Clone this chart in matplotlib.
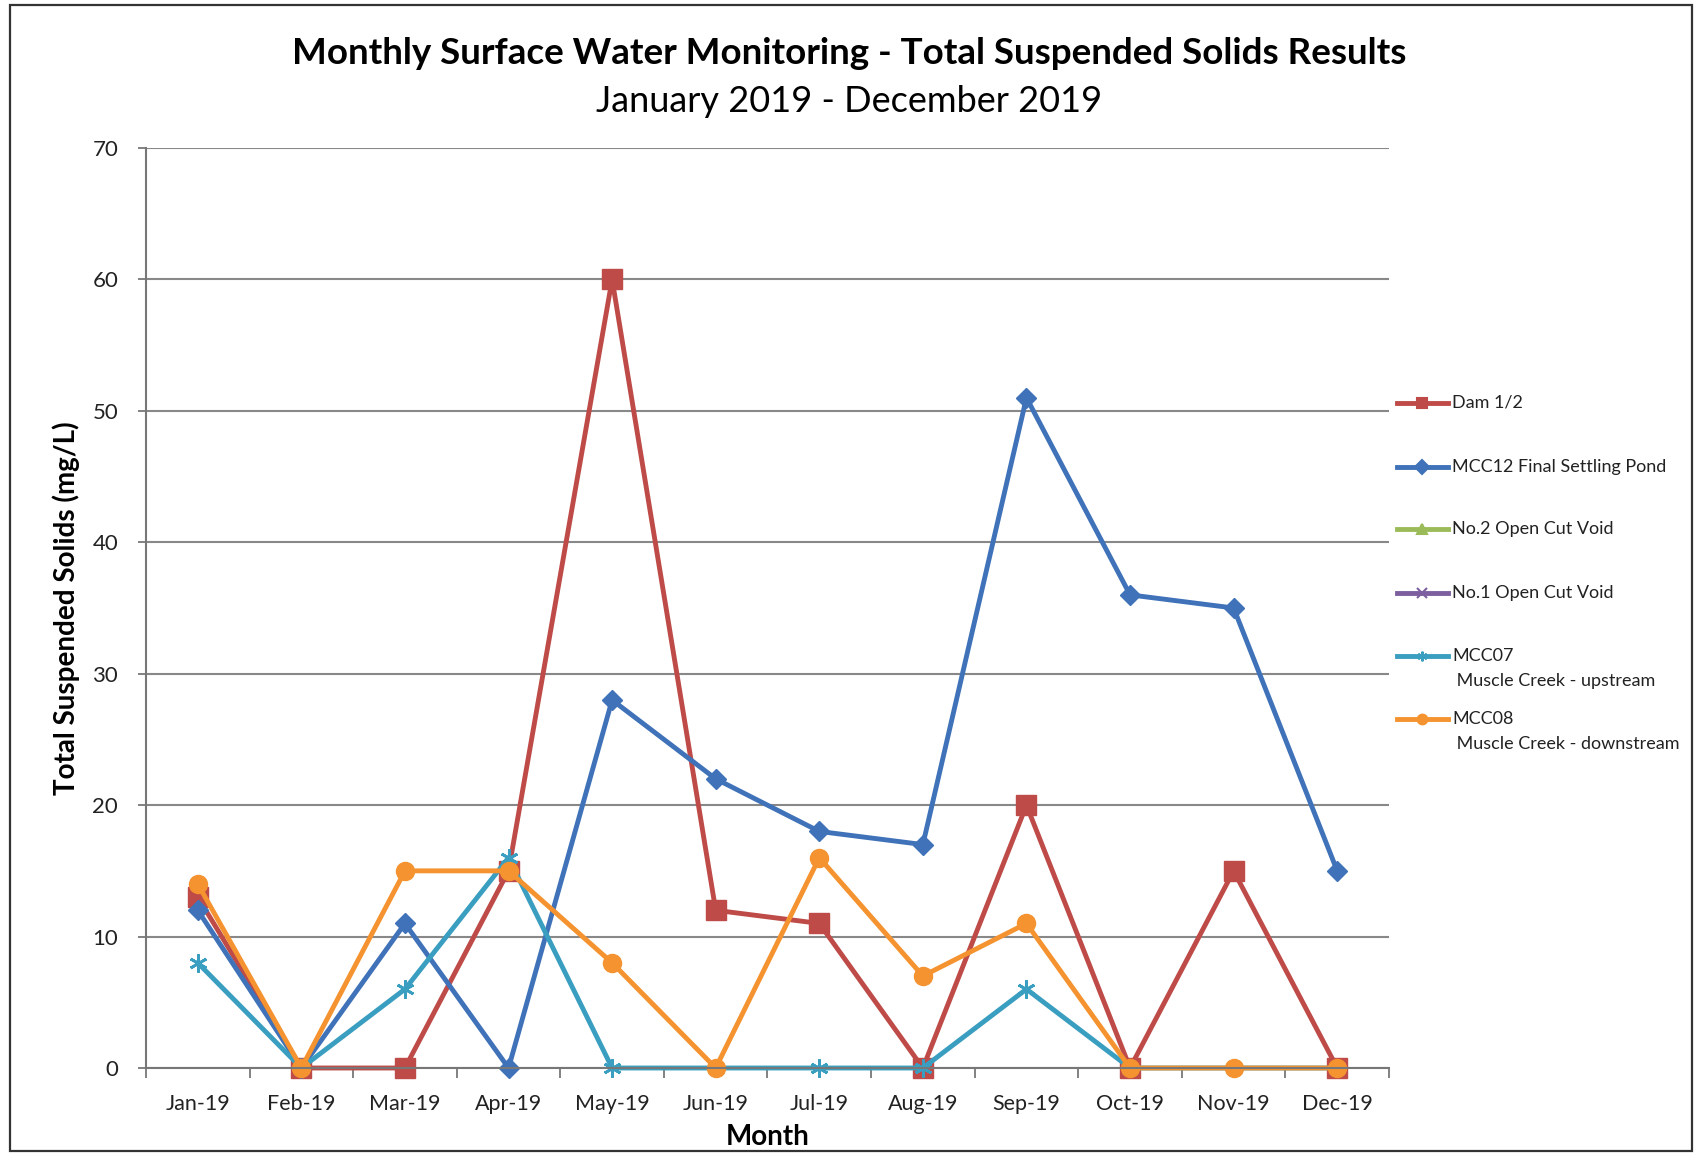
import numpy as np
import matplotlib
matplotlib.use("Agg")
from matplotlib import pyplot as plt
from matplotlib.lines import Line2D
from matplotlib.patches import Rectangle

plt.rcParams['font.family'] = ['Lato', 'DejaVu Sans']

months = ['Jan-19', 'Feb-19', 'Mar-19', 'Apr-19', 'May-19', 'Jun-19',
          'Jul-19', 'Aug-19', 'Sep-19', 'Oct-19', 'Nov-19', 'Dec-19']

dam_12 = [13, 0, 0, 15, 60, 12, 11, 0, 20, 0, 15, 0]
mcc12 = [12, 0, 11, 0, 28, 22, 18, 17, 51, 36, 35, 15]
no2_void = [np.nan] * 12
no1_void = [np.nan] * 12
mcc07 = [8, 0, 6, 16, 0, 0, 0, 0, 6, 0, 0, 0]
mcc08 = [14, 0, 15, 15, 8, 0, 16, 7, 11, 0, 0, 0]

series_names = ['Dam 1/2', 'MCC12 Final Settling Pond', 'No.2 Open Cut Void',
                'No.1 Open Cut Void', 'MCC07\n Muscle Creek - upstream',
                'MCC08\n Muscle Creek - downstream']
series_vals = [dam_12, mcc12, no2_void, no1_void, mcc07, mcc08]
colors = ['#BE4B48', '#3F72B8', '#9BBB59', '#7D5FA0', '#3A9EC0', '#F4932F']
markers = ['s', 'D', '^', 'x', (6, 2, 0), 'o']
msizes = [14, 10, 10, 10, 13, 13]

W, H = 1698, 1155
fig = plt.figure(figsize=(W / 100, H / 100), dpi=100)
ax = fig.add_axes([146 / W, 1 - 1068 / H, (1389 - 146) / W, (1068 - 148) / H])

x = np.arange(len(months))
for vals, c, m, ms in zip(series_vals, colors, markers, msizes):
    ax.plot(x, vals, color=c, lw=3.5, marker=m, markersize=ms,
            markeredgewidth=2 if m == (6, 2, 0) else 1, markeredgecolor=c,
            markerfacecolor=c, clip_on=False)

ax.set_xlim(-0.5, 11.5)
ax.set_ylim(0, 70)
ax.set_yticks(range(0, 71, 10))
ax.set_xticks(x)
ax.set_xticklabels(months, fontsize=15.5, color='#222222')
ax.set_xticks(np.arange(-0.5, 12, 1), minor=True)
ax.tick_params(axis='x', which='major', length=0, pad=19)
ax.tick_params(axis='x', which='minor', length=7, width=1.3, color='#777777')
ax.tick_params(axis='y', length=6, width=1.3, color='#777777', labelsize=16,
               labelcolor='#222222', pad=14)
ax.grid(axis='y', color='#888888', lw=1.5)
ax.set_axisbelow(True)
for s in ['top', 'right']:
    ax.spines[s].set_visible(False)
for s in ['left', 'bottom']:
    ax.spines[s].set_color('#777777')
    ax.spines[s].set_linewidth(1.5)

ax.set_xlabel('Month', fontsize=20, fontweight='bold', labelpad=7)
ax.set_ylabel('Total Suspended Solids (mg/L)', fontsize=20, fontweight='bold', labelpad=9)

fig.text(0.5, 1 - 54 / H, 'Monthly Surface Water Monitoring - Total Suspended Solids Results',
         ha='center', va='center', fontsize=26.5, fontweight='bold')
fig.text(0.5, 1 - 101 / H, 'January 2019 - December 2019',
         ha='center', va='center', fontsize=26)

# legend drawn by hand to follow the original spacing
leg_y = [403, 467, 529, 593, 656, 719]
for name, c, m, y in zip(series_names, colors, markers, leg_y):
    yf = 1 - y / H
    fig.add_artist(Line2D([1397 / W, 1448 / W], [yf, yf], transform=fig.transFigure,
                          color=c, lw=3.5))
    fig.add_artist(Line2D([1422 / W], [yf], transform=fig.transFigure, color=c,
                          marker=m, markersize=7, markeredgewidth=1.5,
                          markerfacecolor=c, markeredgecolor=c))
    lines = name.split('\n')
    fig.text(1452 / W, yf, lines[0], fontsize=13, va='center', color='#222222')
    if len(lines) > 1:
        fig.text(1452 / W, yf - 25 / H, lines[1], fontsize=13, va='center', color='#222222')

fig.add_artist(Rectangle((10 / W, 4 / H), (W - 16) / W, (H - 9) / H,
                         transform=fig.transFigure, fill=False,
                         edgecolor='#333333', lw=1.6))

fig.savefig('out.png', dpi=100)
